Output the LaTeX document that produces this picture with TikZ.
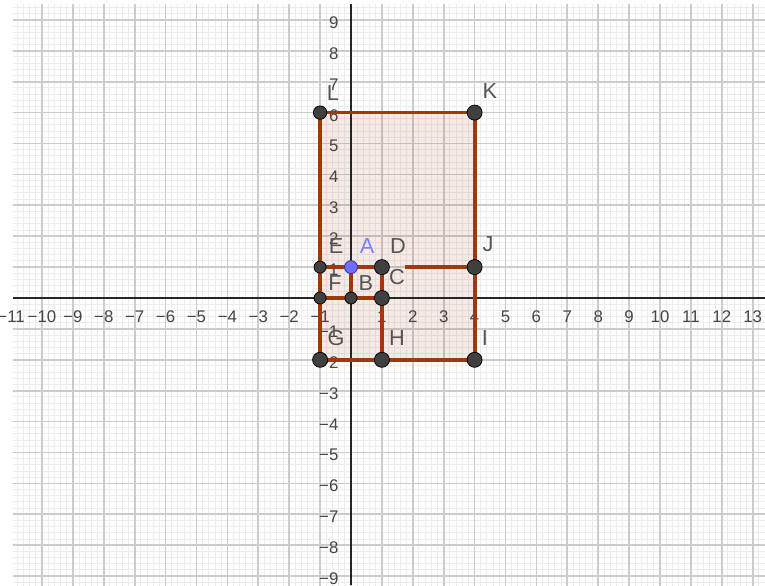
\documentclass[tikz,border=0pt]{standalone}
\usepackage{fontspec}
\setmainfont{Liberation Sans}
\definecolor{brn}{RGB}{160,56,10}
\definecolor{majg}{RGB}{204,204,204}
\definecolor{ming}{RGB}{236,236,236}
\definecolor{axc}{RGB}{37,37,37}
\definecolor{ptc}{RGB}{64,64,64}
\definecolor{numc}{RGB}{70,70,70}
\definecolor{lblc}{RGB}{85,85,85}
\definecolor{bluept}{RGB}{110,110,255}
\definecolor{bluebd}{RGB}{50,50,150}
\definecolor{bluelbl}{RGB}{125,125,255}
\tikzset{
  minorgrid/.style={draw=ming, line width=0.9pt},
  majorgrid/.style={draw=majg, line width=1.5pt},
  axisline/.style={draw=axc, line width=1.2pt},
  xnum/.style={font=\fontsize{15.5}{18}\selectfont, text=numc, inner sep=0pt, anchor=center},
  ynum/.style={font=\fontsize{15.5}{18}\selectfont, text=numc, inner sep=0pt, anchor=east},
  seg/.style={draw=brn, line width=3.5pt, line cap=round, line join=round},
  polyfill/.style={fill=brn, fill opacity=0.1},
  bigpt/.style={circle, fill=ptc, draw=black, line width=0.7pt, minimum size=0.486cm, inner sep=0pt},
  midpt/.style={circle, fill=ptc, draw=black, line width=0.7pt, minimum size=0.434cm, inner sep=0pt},
  smallpt/.style={circle, fill=ptc, draw=black, line width=0.7pt, minimum size=0.39cm, inner sep=0pt},
  apt/.style={circle, fill=bluept, draw=bluebd, line width=0.7pt, minimum size=0.42cm, inner sep=0pt},
  lbl/.style={font=\fontsize{20}{24}\selectfont, text=lblc, inner sep=0pt, anchor=center},
}
\begin{document}
\begin{tikzpicture}[x=1cm,y=1cm]
\useasboundingbox (-11.359,-9.288) rectangle (13.398,9.644);
\fill[white] (-11.359,-9.288) rectangle (13.398,9.644);
% grid
\begin{scope}
\clip (-10.94,-9.288) rectangle (13.398,9.51);
\draw[minorgrid, step=0.2] (-11.2,-9.6) grid (13.6,9.8);
\draw[majorgrid, step=1] (-11.2,-9.6) grid (13.6,9.8);
\end{scope}
% points
\coordinate (L) at (-1,6);
\coordinate (K) at (4,6);
\coordinate (J) at (4,1);
\coordinate (I) at (4,-2);
\coordinate (H) at (1,-2);
\coordinate (G) at (-1,-2);
\coordinate (E) at (-1,1);
\coordinate (A) at (0,1);
\coordinate (D) at (1,1);
\coordinate (F) at (-1,0);
\coordinate (B) at (0,0);
\coordinate (C) at (1,0);
\coordinate (DJ) at (1.75,1);
% polygon fill
\fill[polyfill] (L) -- (K) -- (I) -- (G) -- cycle;
% axes
\coordinate (xa0) at (-10.94,0);
\coordinate (xa1) at (13.398,0);
\coordinate (ya0) at (0,-9.288);
\coordinate (ya1) at (0,9.51);
\draw[axisline] (xa0) -- (xa1);
\draw[axisline] (ya0) -- (ya1);
% axis numbers
\foreach \i in {1,...,13} \node[xnum] (xp\i) at (\i,-0.615) {\i};
\foreach \i in {1,...,11} \node[xnum] (xm\i) at (-\i,-0.615) {−\i};
\foreach \i in {1,...,9} \node[ynum] (yp\i) at (-0.40,\i-0.09) {\i};
\foreach \i in {1,...,9} \node[ynum] (ym\i) at (-0.40,-\i-0.09) {−\i};
% segments
\draw[seg] (L) -- (K) -- (I) -- (G) -- cycle;
\draw[seg] (E) -- (A) -- (D);
\draw[seg, line cap=butt] (DJ) -- (J);
\draw[seg] (A) -- (B);
\draw[seg] (F) -- (B) -- (C);
\draw[seg] (D) -- (C);
\draw[seg] (C) -- (H);
% point markers
\node[midpt] (pL) at (L) {};
\node[bigpt] (pK) at (K) {};
\node[bigpt] (pJ) at (J) {};
\node[bigpt] (pI) at (I) {};
\node[bigpt] (pH) at (H) {};
\node[bigpt] (pG) at (G) {};
\node[smallpt] (pE) at (E) {};
\node[bigpt] (pD) at (D) {};
\node[smallpt] (pF) at (F) {};
\node[smallpt] (pB) at (B) {};
\node[bigpt] (pC) at (C) {};
\node[apt] (pA) at (A) {};
% labels
\node[lbl] (lL) at (-0.583,6.634) {L};
\node[lbl] (lK) at (4.498,6.699) {K};
\node[lbl] (lJ) at (4.434,1.748) {J};
\node[lbl] (lI) at (4.337,-1.294) {I};
\node[lbl] (lE) at (-0.485,1.683) {E};
\node[lbl, text=bluelbl] (lA) at (0.518,1.683) {A};
\node[lbl] (lD) at (1.521,1.683) {D};
\node[lbl] (lF) at (-0.518,0.485) {F};
\node[lbl] (lB) at (0.485,0.485) {B};
\node[lbl] (lC) at (1.489,0.680) {C};
\node[lbl] (lG) at (-0.485,-1.294) {G};
\node[lbl] (lH) at (1.489,-1.294) {H};
\end{tikzpicture}
\end{document}
